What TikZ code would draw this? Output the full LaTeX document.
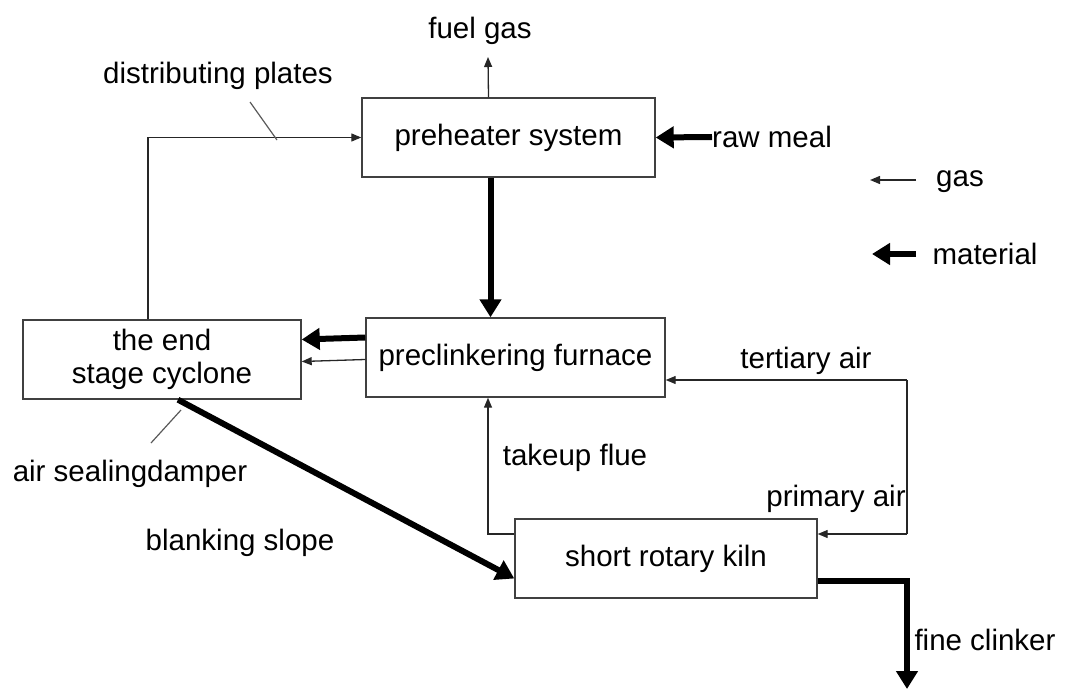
\documentclass[tikz,border=0pt]{standalone}
\usepackage{fontspec}
\setmainfont{Liberation Sans}
\usetikzlibrary{arrows.meta,calc}
\begin{document}
\begin{tikzpicture}[x=1pt,y=-1pt,
  every node/.style={font=\fontsize{29.5}{34}\selectfont, inner sep=0pt},
  procbox/.style={draw=black!75, line width=1.4pt, align=center},
  gasline/.style={draw=black!85, line width=1.3pt, -{Triangle[length=10pt,width=8pt]}},
  plainline/.style={draw=black!85, line width=1.3pt},
  matline/.style={draw=black, line width=6pt, -{Triangle[length=18pt,width=21pt]}},
  slash/.style={draw=black!65, line width=1.2pt}]
\useasboundingbox (0,0) rectangle (1065,698);

% boxes
\node[procbox, minimum width=293pt, minimum height=79pt] (pre) at (508.5,137.5) {\raisebox{-2pt}{preheater system}};
\node[procbox, minimum width=278pt, minimum height=79pt] (cyc) at (162,359.5) {\raisebox{-2pt}{the end}\\[1pt]stage cyclone};
\node[procbox, minimum width=299pt, minimum height=79pt] (fur) at (515.5,357.5) {\raisebox{-1pt}{preclinkering furnace}};
\node[procbox, minimum width=302pt, minimum height=79pt] (kiln) at (666,558.5) {\raisebox{-1pt}{short rotary kiln}};

% labels
\node (fuelgas) at (480,31) {fuel gas};
\node (distpl) at (218,76) {distributing plates};
\node[anchor=west] (rawmeal) at (712,137) {raw meal};
\node (gaslbl) at (960,182) {gas};
\node (matlbl) at (985,254) {material};
\node (tert) at (806,361) {tertiary air};
\node (takeup) at (575,458) {takeup flue};
\node (prim) at (836,499) {primary air};
\node (seal) at (130,474) {air sealingdamper};
\node (blank) at (240,543) {blanking slope};
\node (fine) at (985,640) {fine clinker};

% coordinates
\coordinate (fgtip) at (488,57);
\coordinate (tr) at (907,380);
\coordinate (pr) at (907,534);
\coordinate (tf) at (488,534);
\coordinate (fc) at (907,581);
\coordinate (fcend) at (907,689);
\coordinate (gasA) at (916,180);
\coordinate (gasB) at (870,180);
\coordinate (matA) at (916,254);
\coordinate (matB) at (872,254);
\coordinate (dp1) at (250,102);
\coordinate (dp2) at (277,140);
\coordinate (sd1) at (181,410);
\coordinate (sd2) at (151,443);

% gas flows
\draw[gasline] ($(pre.north)+(-20,0)$) -- (fgtip);
\draw[gasline] ($(cyc.north)+(-14,0)$) |- (pre.west);
\draw[gasline] ($(fur.west)+(0,2)$) -- ($(cyc.east)+(0,2)$);
\draw[plainline] (tr) -- (pr);
\draw[gasline] (tr) -- (fur.east |- tr);
\draw[gasline] (pr) -- (kiln.east |- pr);
\draw[gasline] (kiln.west |- tf) -- (tf) -- (tf |- fur.south);

% material flows
\draw[matline] (rawmeal.west) -- (pre.east);
\draw[matline] ($(pre.south)+(-18,0)$) -- ($(fur.north)+(-25,0)$);
\draw[matline] ($(fur.west)+(0,-20)$) -- ($(cyc.east)+(0,-20)$);
\draw[matline] ($(cyc.south)+(16,0)$) -- ($(kiln.west)+(0,20)$);
\draw[matline] ($(kiln.east)+(0,22.5)$) -- (fc) -- (fcend);

% pointer slashes
\draw[slash] (dp1) -- (dp2);
\draw[slash] (sd1) -- (sd2);

% legend
\draw[gasline] (gasA) -- (gasB);
\draw[matline] (matA) -- (matB);
\end{tikzpicture}
\end{document}
